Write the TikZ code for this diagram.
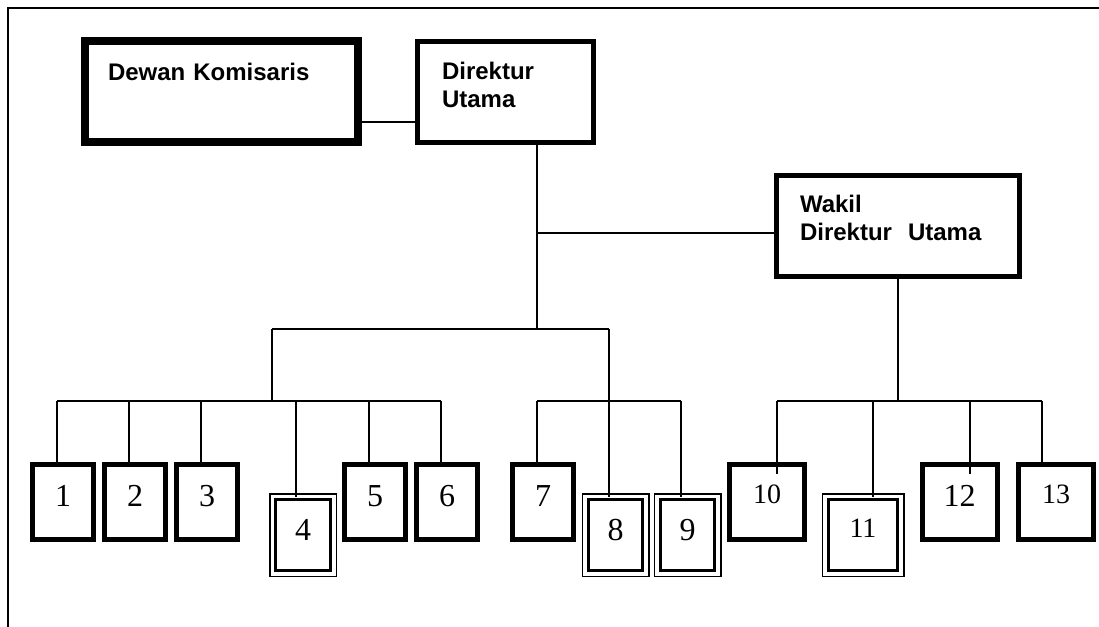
\documentclass[tikz,border=0pt]{standalone}
\usepackage{fontspec}
\setmainfont{Liberation Serif}
\setsansfont{Liberation Sans}
\usetikzlibrary{positioning}

\tikzset{
  head/.style={draw, line width=2.5pt, outer sep=0pt, inner ysep=0pt, align=left,
    font=\sffamily\bfseries\fontsize{12}{14}\selectfont},
  unit/.style={draw, line width=2.5pt, outer sep=0pt, inner sep=0pt,
    minimum width=30.5pt, minimum height=37.5pt,
    font=\fontsize{16}{18}\selectfont, text height=10.8pt, text depth=6pt},
  twin/.style={draw, line width=0.75pt, outer sep=0pt, inner sep=0pt,
    minimum width=33.25pt, minimum height=41.25pt,
    font=\fontsize{16}{18}\selectfont, text height=10.8pt, text depth=5pt},
  wide/.style={minimum width=37.5pt},
  small/.style={font=\fontsize{14}{16}\selectfont, text depth=9.5pt},
  link/.style={line width=0.75pt},
}

\begin{document}
\begin{tikzpicture}[x=0.5pt,y=-0.5pt]
  \useasboundingbox (0,0) rectangle (1099,627);
  \draw[line width=1pt] (8,627) -- (8,8) -- (1099,8);

  % pimpinan
  \node[head, line width=4pt, text width=113.5pt, inner xsep=11.5pt,
        text height=19.5pt, text depth=31pt] (dk) at (221.5,91.5) {Dewan Komisaris};
  \node[head, text width=63.5pt, inner xsep=12.25pt, text height=19.25pt,
        text depth=31.25pt, right=29.75pt of dk] (dir) {Direktur\\Utama};
  \node[head, text width=98pt, inner xsep=11.75pt, text height=18.25pt,
        text depth=32.25pt] (wdu) at (898,226) {Wakil\\Direktur\ \ Utama};

  % unit kerja
  \node[unit] (b1) at (63,502) {1};
  \node[unit, right=5.5pt of b1] (b2) {2};
  \node[unit, right=5.5pt of b2] (b3) {3};
  \node[twin] (b4) at (303,535) {4};
  \node[unit] (b5) at (375,502) {5};
  \node[unit, right=5.5pt of b5] (b6) {6};
  \node[unit] (b7) at (543,502) {7};
  \node[twin] (b8) at (615.5,535) {8};
  \node[twin, right=2.75pt of b8] (b9) {9};
  \node[unit, wide, small] (b10) at (767,502) {10};
  \node[twin, minimum width=40.75pt, small, text depth=8.3pt] (b11) at (863,535) {11};
  \node[unit, wide] (b12) at (959.5,502) {12};
  \node[unit, wide, small] (b13) at (1056,502) {13};
  \foreach \b in {b4,b8,b9,b11}
    \draw[line width=1.6pt] ([shift={(3pt,-3pt)}]\b.north west) rectangle ([shift={(-3pt,3pt)}]\b.south east);

  % garis komando
  \draw[link] ([yshift=-15.25pt]dk.east) -- ([yshift=-15.25pt]dk.east -| dir.west);
  \coordinate (hub) at (537,329);
  \coordinate (wj) at (537,233);
  \coordinate (la) at (272,329);
  \coordinate (lb) at (609,329);
  \draw[link] (hub |- dir.south) -- (hub);
  \draw[link] (wj) -- (wj -| wdu.west);
  \draw[link] (la) -- (lb);
  \foreach \x/\b/\e in {57/b1/1.25pt, 129/b2/1.25pt, 201/b3/1.25pt, 296/b4/1.6pt,
      369/b5/1.25pt, 441/b6/1.25pt, 537/b7/0pt, 609/b8/1.6pt, 681/b9/1.6pt,
      777/b10/4.75pt, 873/b11/1.6pt, 970/b12/4.75pt, 1042/b13/0pt} {
    \coordinate (d\b) at (\x,401);
    \draw[link, shorten >=-\e] (d\b) -- (d\b |- \b.north);
  }
  \draw[link] (db1) -- (db6);
  \draw[link] (db7) -- (db9);
  \draw[link] (db10) -- (db13);
  \draw[link] (la) -- (la |- db1);
  \draw[link] (lb) -- (db8);
  \draw[link] (wdu.south) -- (wdu.south |- db10);
\end{tikzpicture}
\end{document}
